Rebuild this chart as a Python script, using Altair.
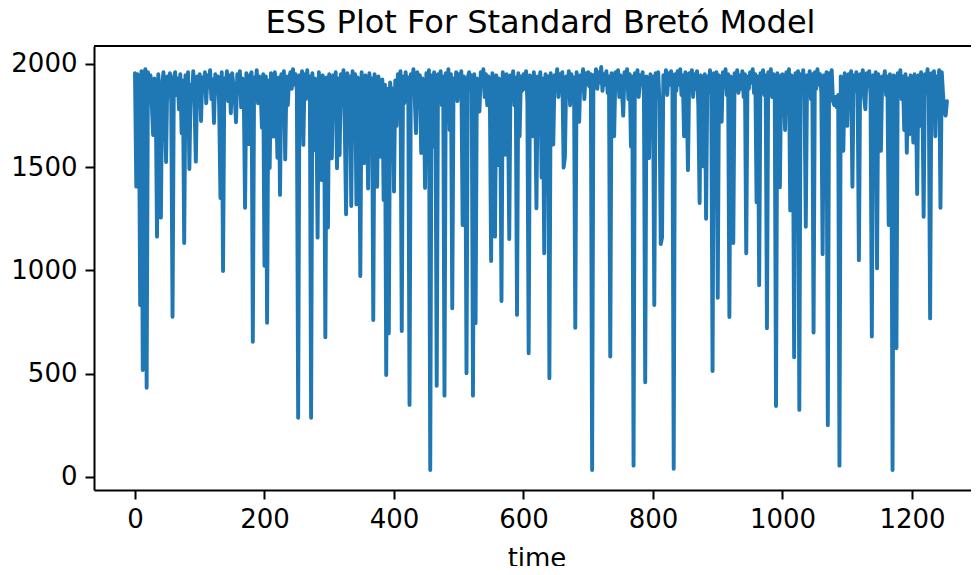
import altair as alt
import pandas as pd

# ESS values, one reading every 2 time steps (time 0..1254)
ess_t0000 = [1955, 1406, 1950, 1890, 833, 1965, 518, 1940, 1975, 432,
             1960, 1880, 1945, 1800, 1656, 1930, 1860, 1164, 1950, 1820,
             1256, 1900, 1960, 1790, 1525, 1940, 1870, 1955, 1810, 776,
             1935, 1960, 1850, 1930, 1780, 1950, 1665, 1920, 1133, 1945,
             1880, 1960, 1491, 1900, 1830, 1965, 1790, 1527, 1940, 1870]
ess_t0100 = [1950, 1724, 1935, 1870, 1960, 1810, 1945, 1890, 1970, 1830,
             1925, 1714, 1950, 1860, 1940, 1800, 1351, 1960, 997, 1930,
             1880, 1965, 1820, 1945, 1762, 1955, 1900, 1840, 1718, 1950,
             1880, 1965, 1790, 1930, 1860, 1304, 1955, 1900, 1612, 1945,
             1960, 655, 1935, 1850, 1970, 1810, 1940, 1880, 1692, 1950]
ess_t0200 = [1023, 1940, 747, 1920, 1496, 1955, 1870, 1648, 1960, 1830,
             1546, 1935, 1366, 1950, 1880, 1965, 1538, 1940, 1800, 1925,
             1960, 1880, 1975, 1900, 1950, 1870, 287, 1945, 1890, 1965,
             1608, 1950, 1830, 1970, 1860, 1940, 287, 1955, 1583, 1930,
             1870, 1159, 1960, 1820, 1438, 1945, 1880, 677, 1935, 1208]
ess_t0300 = [1950, 1870, 1543, 1945, 1820, 1960, 1495, 1930, 1559, 1950,
             1880, 1970, 1700, 1272, 1955, 1860, 1940, 1312, 1965, 1830,
             1950, 1320, 1935, 1880, 973, 1960, 1810, 1520, 1945, 1890,
             1397, 1955, 1840, 1930, 760, 1950, 1870, 1405, 1940, 1800,
             1550, 1925, 1341, 1900, 494, 1880, 696, 1910, 1850, 1880]
ess_t0400 = [1382, 1920, 1700, 1950, 1860, 1965, 707, 1940, 1810, 1960,
             1880, 1935, 349, 1950, 1890, 1975, 1840, 1665, 1960, 1900,
             1945, 1569, 1930, 1860, 1400, 1955, 1880, 1970, 34, 1945,
             1600, 1960, 1850, 442, 1950, 1880, 1965, 1800, 1940, 394,
             1955, 1870, 1975, 1680, 1950, 817, 1930, 1850, 1960, 1820]
ess_t0500 = [1950, 1880, 1965, 1220, 1940, 1850, 502, 1935, 1960, 1880,
             1945, 394, 1950, 745, 1930, 1870, 1770, 1960, 1900, 1975,
             1840, 1950, 1800, 1940, 1880, 1046, 1955, 1830, 1164, 1945,
             1510, 1930, 1870, 852, 1960, 1890, 1560, 1950, 1820, 1152,
             1945, 1880, 1965, 1800, 1935, 785, 1955, 1650, 1940, 1870]
ess_t0600 = [1950, 1880, 1965, 1820, 599, 1945, 1900, 1650, 1960, 1850,
             1301, 1940, 1880, 1960, 1450, 1930, 1083, 1950, 1870, 1940,
             478, 1955, 1860, 1610, 1945, 1890, 1975, 1840, 1950, 1880,
             1960, 1498, 1550, 1940, 1870, 1965, 1800, 1950, 1890, 1935,
             723, 1960, 1850, 1720, 1945, 1890, 1975, 1830, 1955, 1900]
ess_t0700 = [1960, 1890, 1950, 34, 1945, 1900, 1975, 1880, 1960, 1910,
             1985, 1870, 1950, 1900, 1965, 1860, 1940, 583, 1955, 1870,
             1650, 1960, 1900, 1970, 1840, 1945, 1880, 1750, 1960, 1890,
             1975, 1830, 1950, 1600, 1940, 55, 1955, 1880, 1970, 1840,
             1945, 1900, 1960, 1850, 459, 1940, 1880, 1545, 1950, 1860]
ess_t0800 = [1940, 833, 1955, 1880, 1960, 1820, 1128, 1160, 1945, 1880,
             1970, 1850, 1955, 1900, 1965, 1880, 40, 1950, 1870, 1965,
             1900, 1975, 1850, 1945, 1650, 1960, 1880, 1486, 1955, 1900,
             1970, 1840, 1950, 1880, 1965, 1800, 1327, 1945, 1880, 1504,
             1950, 1250, 1940, 1860, 1970, 1880, 513, 1955, 1890, 1960]
ess_t0900 = [868, 1945, 1880, 1720, 1960, 1900, 1975, 1850, 1950, 775,
             1940, 1880, 1133, 1955, 1900, 1970, 1860, 1945, 1880, 1965,
             1840, 1950, 1083, 1940, 1880, 1960, 1910, 1975, 1860, 1950,
             1330, 1940, 929, 1955, 1880, 1970, 1850, 1945, 720, 1960,
             1890, 1975, 1840, 1950, 1880, 344, 1955, 1870, 1403, 1945]
ess_t1000 = [1950, 1880, 1680, 1960, 1900, 1975, 1291, 1945, 1880, 580,
             1955, 1900, 1965, 325, 1950, 1880, 1970, 1850, 1212, 1945,
             1890, 1965, 1830, 1950, 700, 1960, 1880, 1975, 1900, 1950,
             1860, 1079, 1945, 1880, 1960, 251, 1955, 1900, 1970, 1820,
             1800, 1840, 1790, 1850, 55, 1940, 1880, 1580, 1955, 1890]
ess_t1100 = [1700, 1950, 1880, 1965, 1405, 1945, 1870, 1960, 1900, 1050,
             1950, 1880, 1970, 1840, 1780, 1955, 1900, 1965, 1850, 680,
             1945, 1880, 1960, 1010, 1950, 1870, 1580, 1940, 1880, 1965,
             1850, 1940, 1220, 1950, 1880, 34, 1945, 1900, 624, 1955,
             1880, 1970, 1830, 1940, 1680, 1950, 1570, 1930, 1660, 1945]
ess_t1200 = [1880, 1620, 1950, 1860, 1370, 1945, 1700, 1960, 1880, 1260,
             1950, 1890, 1975, 1840, 768, 1955, 1880, 1965, 1650, 1940,
             1890, 1970, 1304, 1960, 1850, 1770, 1750, 1820]

ess = (ess_t0000 + ess_t0100 + ess_t0200 + ess_t0300 + ess_t0400 + ess_t0500
       + ess_t0600 + ess_t0700 + ess_t0800 + ess_t0900 + ess_t1000 + ess_t1100
       + ess_t1200)
time = [2 * i for i in range(len(ess))]

x_ticks = [0, 200, 400, 600, 800, 1000, 1200]
y_ticks = [0, 500, 1000, 1500, 2000]

df = pd.DataFrame({"time": time, "ess": ess})

W, H = 885, 444
FONT = "DejaVu Sans"

line = alt.Chart(df).mark_line(
    color="#1f77b4", strokeWidth=3.9, strokeJoin="round", strokeCap="round"
).encode(
    x=alt.X("time:Q",
            scale=alt.Scale(domain=[-63.3, 1303.5], nice=False, zero=False),
            axis=alt.Axis(values=x_ticks, format="d", title="time", grid=False,
                          labelFontSize=26, titleFontSize=26, labelFont=FONT,
                          titleFont=FONT, titleFontWeight="normal",
                          labelColor="black", titleColor="black",
                          tickSize=9, tickWidth=2, tickColor="black",
                          domainWidth=2, domainColor="black",
                          labelPadding=7, titlePadding=13, labelFlush=False)),
    y=alt.Y("ess:Q",
            scale=alt.Scale(domain=[-63, 2087], nice=False, zero=False),
            axis=alt.Axis(values=y_ticks, format="d", title=None, grid=False,
                          labelFontSize=26, labelFont=FONT, labelColor="black",
                          tickSize=9, tickWidth=2, tickColor="black",
                          domainWidth=2, domainColor="black",
                          labelPadding=8, labelFlush=False)),
)

top_frame = alt.Chart(df).mark_rule(color="black", strokeWidth=2).encode(
    x=alt.value(0), x2=alt.value(W), y=alt.value(0)
)

chart = alt.layer(line, top_frame).properties(
    width=W, height=H,
    title=alt.TitleParams("ESS Plot For Standard Bretó Model", fontSize=32,
                          font=FONT, fontWeight="normal", color="black",
                          anchor="middle", dx=4, offset=5),
    autosize=alt.AutoSizeParams(type="none"),
    padding={"left": 86, "top": 38, "right": -8, "bottom": 76},
).configure_view(stroke=None)

chart.save("out.html", embed_options={"renderer": "svg", "actions": False})
